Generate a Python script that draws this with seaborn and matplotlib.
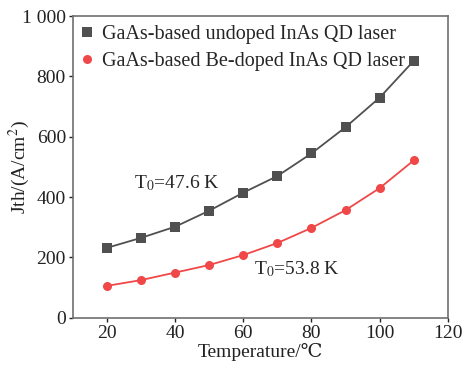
import numpy as np
import pandas as pd
import matplotlib.pyplot as plt
import seaborn as sns

temperature = [20, 30, 40, 50, 60, 70, 80, 90, 100, 110]
undoped = [232, 265, 302, 355, 415, 470, 545, 632, 730, 852]
be_doped = [106, 125, 150, 175, 208, 248, 298, 357, 430, 522]
labels = ["GaAs-based undoped InAs QD laser", "GaAs-based Be-doped InAs QD laser"]

df = pd.DataFrame({
    "T": temperature * 2,
    "Jth": undoped + be_doped,
    "sample": [labels[0]] * len(temperature) + [labels[1]] * len(temperature),
})

sns.set_style("ticks")
plt.rcParams["font.family"] = ["Liberation Serif", "DejaVu Serif"]
plt.rcParams["mathtext.fontset"] = "stix"

fig = plt.figure(figsize=(4.67, 3.67), dpi=100)
ax = fig.add_axes([0.156, 0.134, 0.803, 0.822])

sns.lineplot(data=df, x="T", y="Jth", hue="sample", style="sample",
             palette=["#505050", "#f04848"], markers=["s", "o"], dashes=False,
             markersize=6.5, markeredgewidth=0, linewidth=1.3, ax=ax)

ax.set_xlim(10, 120)
ax.set_ylim(0, 1000)
ax.set_xticks([20, 40, 60, 80, 100, 120])
ax.set_yticks([0, 200, 400, 600, 800, 1000])
ax.set_yticklabels(["0", "200", "400", "600", "800", "1 000"])
ax.tick_params(labelsize=14, colors="#222222", length=3, width=1, pad=2)
for s in ax.spines.values():
    s.set_color("#707070")
    s.set_linewidth(1.2)

ax.set_xlabel("Temperature/℃", fontsize=14, color="#222222", labelpad=1)
ax.set_ylabel("Jth/(A/cm$^2$)", fontsize=14, color="#222222")
ax.yaxis.set_label_coords(-0.11, 0.5)

ax.text(27.8, 445, "T$_0$=47.6 K", fontsize=14, va="center")
ax.text(63, 160, "T$_0$=53.8 K", fontsize=14, va="center")

leg = ax.legend(loc="upper left", frameon=False, fontsize=14.5, handlelength=0.5,
                handletextpad=0.5, borderaxespad=0.15, labelspacing=0.38,
                borderpad=0.3)
for h in leg.legend_handles:
    h.set_linestyle("none")

fig.savefig("out.png", dpi=100)
